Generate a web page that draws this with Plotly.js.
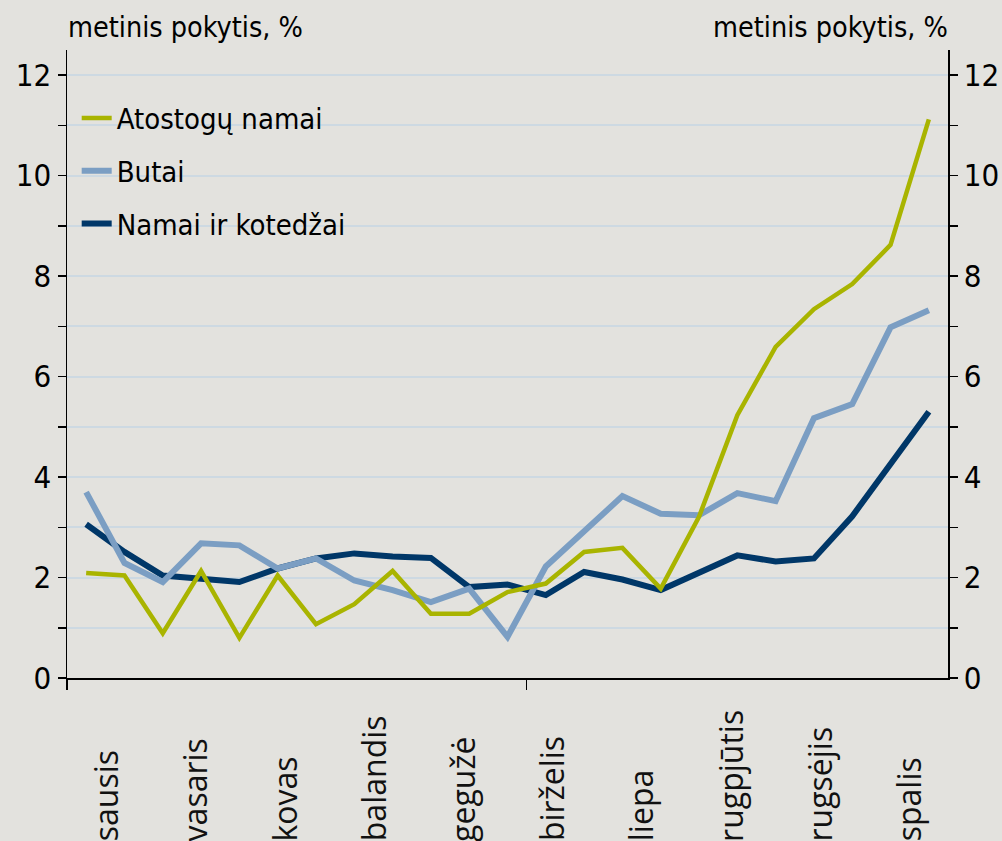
<!DOCTYPE html>
<html>
<head>
<meta charset="utf-8">
<script src="https://cdn.plot.ly/plotly-3.0.1.min.js"></script>
<style>
html, body { margin: 0; padding: 0; background: #e3e2de; }
#chart { width: 1002px; height: 841px; }
</style>
</head>
<body>
<div id="chart"></div>
<script>
// ---- data ----
var periods = [1, 2, 3, 4, 5, 6, 7, 8, 9, 10, 11, 12, 13, 14, 15, 16, 17, 18, 19, 20, 21, 22, 23];
var atostoguNamai = [2.09, 2.04, 0.89, 2.13, 0.80, 2.04, 1.07, 1.47, 2.13, 1.28, 1.28, 1.71, 1.88, 2.51, 2.59, 1.78, 3.21, 5.23, 6.59, 7.34, 7.84, 8.62, 11.12];
var butai = [3.70, 2.29, 1.91, 2.68, 2.64, 2.18, 2.38, 1.94, 1.75, 1.51, 1.78, 0.82, 2.22, 2.94, 3.62, 3.27, 3.24, 3.68, 3.52, 5.17, 5.45, 6.98, 7.32];
var namaiIrKotedzai = [3.06, 2.51, 2.04, 1.98, 1.91, 2.18, 2.38, 2.48, 2.42, 2.39, 1.81, 1.86, 1.65, 2.11, 1.96, 1.75, 2.09, 2.44, 2.32, 2.38, 3.22, 4.28, 5.30];
var seriesNames = ['Atostogų namai', 'Butai', 'Namai ir kotedžai'];
var monthLabels = ['sausis', 'vasaris', 'kovas', 'balandis', 'gegužė', 'birželis', 'liepa', 'rugpjūtis', 'rugsėjis', 'spalis'];
var yTitle = 'metinis pokytis, %';

// ---- styling ----
var narrow = "'Liberation Sans Narrow', 'Arial Narrow', 'DejaVu Sans Condensed', sans-serif";
var colGreen = '#a9b400', colBlue = '#7b9ec3', colNavy = '#003768';

var traces = [
  { x: periods, y: namaiIrKotedzai, name: seriesNames[2], type: 'scatter', mode: 'lines',
    line: { color: colNavy, width: 6 }, legendgroup: 'c', legendrank: 3 },
  { x: periods, y: butai, name: seriesNames[1], type: 'scatter', mode: 'lines',
    line: { color: colBlue, width: 6 }, legendgroup: 'b', legendrank: 2 },
  { x: periods, y: atostoguNamai, name: seriesNames[0], type: 'scatter', mode: 'lines',
    line: { color: colGreen, width: 4.5 }, legendgroup: 'a', legendrank: 1 },
  { x: [periods[0]], y: [null], yaxis: 'y2', showlegend: false, hoverinfo: 'skip', type: 'scatter', mode: 'lines' }
];

var annotations = monthLabels.map(function (m, k) {
  return { text: m, x: k, xref: 'x2', y: -0.2635, yref: 'paper', yanchor: 'bottom', xanchor: 'center',
    textangle: -90, showarrow: false, font: { family: "'Open Sans', 'Noto Sans', sans-serif", size: 32, color: '#111' } };
});
annotations.push({ text: yTitle, x: -0.001, xref: 'paper', xanchor: 'left', y: 1.0365, yref: 'paper', yanchor: 'middle',
  showarrow: false, font: { family: narrow, size: 28.5, color: '#000' } });
annotations.push({ text: yTitle, x: 1.002, xref: 'paper', xanchor: 'right', y: 1.0365, yref: 'paper', yanchor: 'middle',
  showarrow: false, font: { family: narrow, size: 28.5, color: '#000' } });

var yCommon = {
  range: [0, 12.5], tick0: 0, dtick: 2, ticks: 'outside', ticklen: 8, tickwidth: 1.5, tickcolor: '#000',
  showline: true, linecolor: '#000', linewidth: 1.5, zeroline: false,
  tickfont: { family: narrow, size: 31, color: '#000' },
  minor: { dtick: 1, ticks: 'outside', ticklen: 8, tickwidth: 1.5, tickcolor: '#000' }
};

var layout = {
  width: 1002, height: 841,
  margin: { l: 67, r: 54, t: 50, b: 163, pad: 0 },
  paper_bgcolor: '#e3e2de', plot_bgcolor: '#e3e2de',
  showlegend: true,
  legend: { x: 0.011, xanchor: 'left', y: 0.932, yanchor: 'top', bgcolor: 'rgba(0,0,0,0)',
    font: { family: narrow, size: 29, color: '#000' }, tracegroupgap: 12, traceorder: 'grouped' },
  xaxis: { range: [0.5, 23.5], tickmode: 'array', tickvals: [0.5, 12.5], ticks: 'outside', ticklen: 10, tickwidth: 1.5,
    tickcolor: '#000', showticklabels: false, showline: true, linecolor: '#000', linewidth: 1.5,
    showgrid: false, zeroline: false },
  xaxis2: { overlaying: 'x', range: [-0.44, 9.44], visible: false, anchor: 'y' },
  yaxis: Object.assign({}, yCommon, { showgrid: true, gridcolor: '#cdd9e2', gridwidth: 2,
    minor: Object.assign({}, yCommon.minor, { showgrid: true, gridcolor: '#cdd9e2', gridwidth: 2 }) }),
  yaxis2: Object.assign({}, yCommon, { overlaying: 'y', side: 'right', showgrid: false, anchor: 'x' }),
  annotations: annotations,
  hovermode: false
};

Plotly.newPlot('chart', traces, layout, { staticPlot: true });
</script>
</body>
</html>
